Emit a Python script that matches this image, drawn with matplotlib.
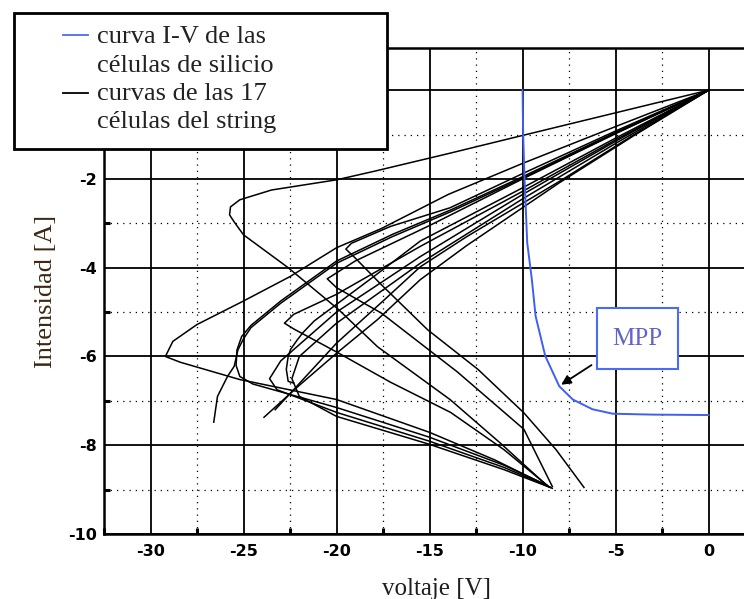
import numpy as np
import matplotlib
matplotlib.use('Agg')
import matplotlib.pyplot as plt
from matplotlib.patches import Rectangle
from matplotlib.lines import Line2D
from matplotlib.ticker import MultipleLocator

plt.rcParams['axes.unicode_minus']=False

# curva I-V de las celulas de silicio (azul)
iv_v=[-10,-9.97,-9.9,-9.75,-9.5,-9.3,-8.78,-8.03,-7.3,-6.24,-5.15,-3.0,0]
iv_i=[0,-0.97,-1.95,-3.44,-4.27,-5.09,-5.99,-6.67,-6.97,-7.19,-7.29,-7.31,-7.32]

# curvas de las celulas del string (negro)
str_v=[
 [0,-5,-10,-13.9,-18,-20.0,-23.5,-25.2,-25.7,-25.75,-25.5,-25.0,-22.6,-19.9,-17.8,-13.9,-11.2,-8.66],
 [0,-5,-10,-14,-17.6,-20,-22.5,-25,-27.5,-28.8,-29.2,-28.4,-25.2,-20.0,-15.0,-11.5,-8.5],
 [0,-5,-10,-13.9,-17.1,-19.2,-19.5,-19.0,-17.6,-15.1,-12.4,-9.93,-8.2,-6.7],
 [0,-5,-10,-13.87,-17,-20,-23,-24.6,-25.1,-25.35,-25.4,-25.2,-24.5,-20,-15,-11,-8.7],
 [0,-5,-10,-13.87,-17,-20,-23,-24.6,-25.0,-25.3,-25.5,-25.86,-26.4,-26.6],
 [0,-5,-10,-15.5,-18,-21.2,-21.8,-22.1,-22.47,-22.6,-22.7,-22.6,-22.3],
 [0,-5,-10,-15.5,-20,-22.3,-22.8,-22.3,-19.95,-17.1,-13.87,-11,-8.6],
 [0,-4,-8,-13,-15.5,-17.8,-19.95,-22,-23.9],
 [0,-4,-8,-13,-15.5,-17.5,-20,-23.3],
 [0,-5,-10,-15.5,-20,-23.0,-23.6,-23.2,-20,-15,-11,-8.5],
 [0,-5,-10,-15.5,-20,-22.0,-22.4,-22.0,-20,-15,-11,-8.4],
 [0,-5,-10,-15,-19,-20.5,-20.0,-17.6,-13.5,-9.93,-8.4],
]
str_i=[
 [0,-0.51,-1.02,-1.42,-1.83,-2.02,-2.25,-2.47,-2.63,-2.81,-2.97,-3.26,-4.0,-4.94,-5.78,-6.97,-7.95,-8.92],
 [0,-0.82,-1.65,-2.35,-3.12,-3.55,-4.2,-4.75,-5.28,-5.66,-6.0,-6.13,-6.52,-6.97,-7.71,-8.33,-8.95],
 [0,-0.92,-1.88,-2.65,-3.07,-3.45,-3.58,-3.78,-4.38,-5.4,-6.29,-7.27,-8.1,-8.95],
 [0,-0.95,-1.95,-2.7,-3.25,-3.85,-4.75,-5.3,-5.55,-5.85,-6.2,-6.45,-6.62,-7.15,-7.82,-8.45,-8.9],
 [0,-0.97,-1.98,-2.74,-3.3,-3.9,-4.8,-5.35,-5.6,-5.85,-6.22,-6.45,-6.9,-7.48],
 [0,-1.08,-2.2,-3.4,-4.2,-5.2,-5.46,-5.62,-5.84,-6.0,-6.29,-6.56,-6.6],
 [0,-1.12,-2.28,-3.52,-4.6,-5.05,-5.25,-5.38,-5.91,-6.58,-7.26,-8.1,-8.93],
 [0,-1.02,-2.08,-3.5,-4.27,-5.17,-5.91,-6.65,-7.37],
 [0,-1.0,-2.05,-3.3,-3.98,-4.75,-5.7,-7.2],
 [0,-1.15,-2.35,-3.75,-5.0,-6.1,-6.5,-6.75,-7.26,-7.91,-8.5,-8.95],
 [0,-1.2,-2.45,-3.9,-5.25,-6.0,-6.5,-6.9,-7.35,-7.98,-8.55,-8.97],
 [0,-0.98,-2.0,-3.05,-3.85,-4.25,-4.45,-5.02,-6.35,-7.64,-8.93],
]

x_ticks=[-30,-25,-20,-15,-10,-5,0]
y_ticks=[-10,-8,-6,-4,-2,0]

fig=plt.figure(figsize=(7.44,5.99),dpi=100)
ax=fig.add_axes([104/744,65/599,666/744,486/599])
ax.set_xlim(-32.5,3.3); ax.set_ylim(-10,0.95)

for v,i in zip(str_v,str_i):
    ax.plot(v,i,color='k',lw=1.1,zorder=2)
ax.plot(iv_v,iv_i,color='#3f5ff0',lw=1.4,zorder=3)

ax.set_xticks(x_ticks); ax.set_yticks(y_ticks)
ax.xaxis.set_minor_locator(MultipleLocator(2.5)); ax.yaxis.set_minor_locator(MultipleLocator(1))
ax.grid(which='major',color='k',lw=1.3)
ax.grid(which='minor',color='k',lw=0.9,ls=(0,(1,4)))
ax.set_axisbelow(True)
ax.tick_params(which='major',direction='in',length=0,pad=7,labelsize=11.5)
ax.tick_params(axis='y',which='major',pad=5)
ax.tick_params(which='minor',direction='in',length=4,width=2.2)
for lab in ax.get_xticklabels()+ax.get_yticklabels():
    lab.set_fontweight('bold'); lab.set_family('DejaVu Sans')
for s in ax.spines.values(): s.set_linewidth(1.8)

ax.set_xlabel('voltaje [V]',family='Liberation Serif',fontsize=18,color='#1e1e1e',labelpad=14)
ax.set_ylabel('Intensidad [A]',family='Liberation Serif',fontsize=19,color='#3a2812',labelpad=8)

# MPP
ax.add_patch(Rectangle((-6.02,-6.29),4.35,1.39,facecolor='white',edgecolor='#4a6cf0',lw=1.5,zorder=4))
ax.text(-3.85,-5.6,'MPP',family='Liberation Serif',fontsize=18,color='#6262cc',ha='center',va='center',zorder=5)
ax.annotate('',xy=(-8.05,-6.67),xytext=(-6.17,-6.16),
            arrowprops=dict(arrowstyle='-|>',color='k',lw=1.3,mutation_scale=14),zorder=5)

# leyenda
W,H=744,599
fig.add_artist(Rectangle((14/W,1-149/H),373/W,136/H,transform=fig.transFigure,
               facecolor='white',edgecolor='k',lw=2,zorder=10))
fig.add_artist(Line2D([63/W,88/W],[1-35/H,1-35/H],color='#4a6cf0',lw=1.3,zorder=11))
fig.add_artist(Line2D([63/W,88/W],[1-93/H,1-93/H],color='k',lw=1.3,zorder=11))
leg_lines=['curva I-V de las','células de silicio','curvas de las 17','células del string']
for k,t in enumerate(leg_lines):
    fig.text(97/W,1-[43,72,100,128][k]/H,t,family='Liberation Serif',fontsize=19,
             color='#222222',va='baseline',ha='left',zorder=12)

fig.savefig('out.png',dpi=100)
